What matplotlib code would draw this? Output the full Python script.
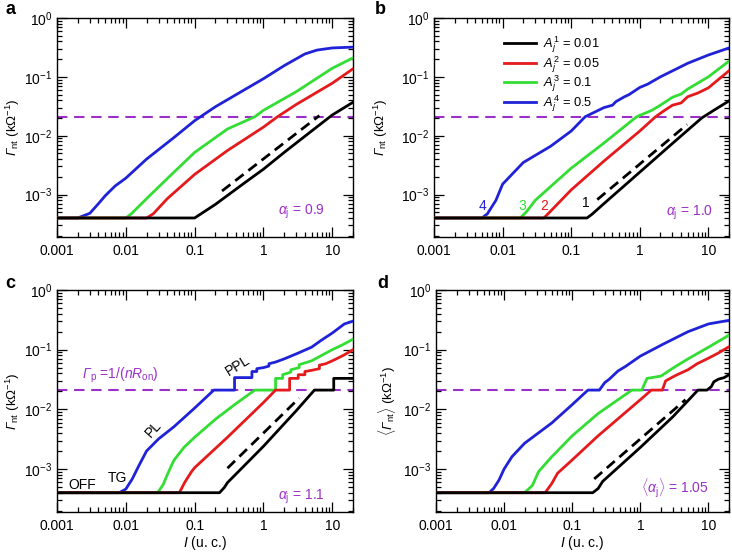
import matplotlib
matplotlib.use("Agg")
import matplotlib.pyplot as plt
import numpy as np
from matplotlib.ticker import LogLocator, NullFormatter

plt.rcParams['font.family'] = ['Liberation Sans', 'DejaVu Sans']
plt.rcParams['mathtext.fontset'] = 'custom'
plt.rcParams['mathtext.rm'] = 'Liberation Sans'
plt.rcParams['mathtext.it'] = 'Liberation Sans:italic'
plt.rcParams['mathtext.bf'] = 'Liberation Sans:bold'
plt.rcParams['mathtext.sf'] = 'Liberation Sans:italic'

# ---------------- data ----------------
Gp_level = 0.021

# panel a (alpha_j = 0.9)
a_black_I = [0.001, 0.1, 0.12, 0.2, 0.5, 1, 2, 5, 10, 20]
a_black_G = [4e-4, 4e-4, 4.6e-4, 6.8e-4, 1.5e-3, 2.7e-3, 5.2e-3, 1.2e-2, 2.25e-2, 3.7e-2]
a_red_I = [0.001, 0.02, 0.025, 0.04, 0.1, 0.3, 1, 1.6, 3, 10, 20]
a_red_G = [4e-4, 4e-4, 4.7e-4, 8.5e-4, 2.2e-3, 5.6e-3, 1.4e-2, 2.1e-2, 3.4e-2, 7.8e-2, 1.37e-1]
a_green_I = [0.001, 0.01, 0.012, 0.02, 0.05, 0.1, 0.3, 0.75, 1, 3, 10, 20]
a_green_G = [4e-4, 4e-4, 4.7e-4, 8.5e-4, 2.4e-3, 5.2e-3, 1.3e-2, 2.1e-2, 2.7e-2, 5.6e-2, 1.4e-1, 2.1e-1]
a_blue_I = [0.001, 0.002, 0.003, 0.004, 0.005, 0.007, 0.01, 0.02, 0.05, 0.1, 0.2, 0.5, 1, 2, 4, 6, 10, 20]
a_blue_G = [4e-4, 4e-4, 4.8e-4, 7e-4, 9.5e-4, 1.4e-3, 1.9e-3, 4.0e-3, 9.3e-3, 1.8e-2, 3.1e-2, 5.8e-2,
            9.3e-2, 1.55e-1, 2.45e-1, 2.85e-1, 3.1e-1, 3.2e-1]
a_dash_I = [0.25, 6.5]
a_dash_G = [1.15e-3, 2.2e-2]

# panel b (alpha_j = 1.0)
b_black_I = [0.001, 0.17, 0.2, 0.3, 1, 3, 8, 12, 20]
b_black_G = [4e-4, 4e-4, 4.6e-4, 7e-4, 2.4e-3, 7.4e-3, 2.0e-2, 2.7e-2, 3.9e-2]
b_red_I = [0.001, 0.04, 0.05, 0.1, 0.3, 1, 1.7, 2.2, 3, 4, 5, 7, 10, 20]
b_red_G = [4e-4, 4e-4, 5.2e-4, 1.2e-3, 3.7e-3, 1.2e-2, 2.1e-2, 2.6e-2, 3.3e-2, 3.6e-2, 4.6e-2, 5.3e-2,
           6.5e-2, 1.27e-1]
b_green_I = [0.001, 0.018, 0.022, 0.03, 0.1, 0.3, 0.9, 1.5, 2, 3, 4, 5, 10, 20]
b_green_G = [4e-4, 4e-4, 5e-4, 8e-4, 2.8e-3, 7.5e-3, 2.1e-2, 2.7e-2, 3.3e-2, 4.5e-2, 5.1e-2, 6.2e-2,
             1.0e-1, 1.85e-1]
b_blue_I = [0.001, 0.005, 0.006, 0.008, 0.01, 0.02, 0.05, 0.1, 0.16, 0.3, 0.4, 0.45, 0.6, 0.7, 1, 1.3,
            2, 5, 10, 20]
b_blue_G = [4e-4, 4e-4, 4.7e-4, 8e-4, 1.5e-3, 3.5e-3, 6.6e-3, 1.2e-2, 2.1e-2, 3.0e-2, 3.3e-2, 3.8e-2,
            4.6e-2, 5.0e-2, 6.6e-2, 7.5e-2, 1.0e-1, 1.7e-1, 2.35e-1, 3.1e-1]
b_dash_I = [0.24, 4.9]
b_dash_G = [8.2e-4, 1.55e-2]

# panel c (alpha_j = 1.1)
c_black_I = [0.001, 0.23, 0.27, 0.3, 1, 3, 5.5, 10.5, 10.5, 20]
c_black_G = [4e-4, 4e-4, 4.9e-4, 5.9e-4, 2.4e-3, 9.5e-3, 2.1e-2, 2.1e-2, 3.3e-2, 3.3e-2]
c_red_I = [0.001, 0.06, 0.072, 0.09, 0.1, 0.3, 1, 1.5, 2.4, 2.4, 3.2, 3.2, 4, 4, 5, 6.5, 6.5, 8, 10,
           12, 15, 20]
c_red_G = [4e-4, 4e-4, 6e-4, 9e-4, 1.05e-3, 3.4e-3, 1.3e-2, 2.1e-2, 2.1e-2, 3.3e-2, 3.3e-2, 3.8e-2,
           3.8e-2, 4.3e-2, 4.5e-2, 4.8e-2, 5.5e-2, 5.8e-2, 6.5e-2, 7.2e-2, 8.2e-2, 1.0e-1]
c_green_I = [0.001, 0.029, 0.035, 0.04, 0.05, 0.07, 0.1, 0.2, 0.4, 0.75, 1.5, 1.5, 1.9, 1.9, 2.5, 2.5,
             3.3, 3.3, 5, 7, 10, 14, 20]
c_green_G = [4e-4, 4e-4, 5.5e-4, 8e-4, 1.4e-3, 2.3e-3, 3.4e-3, 6.8e-3, 1.25e-2, 2.1e-2, 2.1e-2, 3.3e-2,
             3.3e-2, 3.8e-2, 4.2e-2, 4.6e-2, 5.0e-2, 5.6e-2, 6.5e-2, 8e-2, 1.0e-1, 1.2e-1, 1.5e-1]
c_blue_I = [0.001, 0.008, 0.01, 0.0124, 0.0155, 0.02, 0.03, 0.05, 0.1, 0.19, 0.38, 0.38, 0.68, 0.68,
            0.8, 0.8, 1.0, 1.2, 1.2, 1.5, 2, 3, 5, 7, 10, 15, 20]
c_blue_G = [4e-4, 4e-4, 4.6e-4, 6.8e-4, 1.14e-3, 2e-3, 3.2e-3, 5.1e-3, 1.05e-2, 2.1e-2, 2.1e-2, 3.4e-2,
            3.4e-2, 4.3e-2, 4.3e-2, 4.8e-2, 5.0e-2, 5.3e-2, 5.8e-2, 6.2e-2, 7e-2, 8.5e-2, 1.1e-1,
            1.45e-1, 1.9e-1, 2.7e-1, 3.0e-1]
c_dash_I = [0.3, 3.3]
c_dash_G = [1.03e-3, 1.54e-2]

# panel d (<alpha_j> = 1.05)
d_black_I = [0.001, 0.2, 0.24, 0.28, 1, 3, 7, 9.5, 11, 12, 14, 17, 20]
d_black_G = [4e-4, 4e-4, 4.7e-4, 6.2e-4, 2.3e-3, 7.5e-3, 2.1e-2, 2.1e-2, 2.4e-2, 2.9e-2, 3.2e-2,
             3.4e-2, 3.8e-2]
d_red_I = [0.001, 0.04, 0.05, 0.061, 0.1, 0.24, 1, 1.45, 2.1, 2.35, 3.3, 4, 5, 6.8, 10, 14, 20]
d_red_G = [4e-4, 4e-4, 5.7e-4, 8.5e-4, 1.42e-3, 3.6e-3, 1.45e-2, 2.1e-2, 2.1e-2, 3.0e-2, 3.7e-2,
           4.1e-2, 4.6e-2, 5.8e-2, 7.2e-2, 8.8e-2, 1.12e-1]
d_green_I = [0.001, 0.02, 0.026, 0.032, 0.05, 0.1, 0.24, 0.75, 1.05, 1.25, 2, 3, 5, 10, 20]
d_green_G = [4e-4, 4e-4, 5.3e-4, 9e-4, 1.6e-3, 3.6e-3, 8.5e-3, 2.1e-2, 2.1e-2, 3.3e-2, 3.6e-2, 4.9e-2,
             7e-2, 1.1e-1, 1.75e-1]
d_blue_I = [0.001, 0.006, 0.007, 0.0084, 0.01, 0.013, 0.02, 0.05, 0.1, 0.17, 0.25, 0.3, 0.35, 0.47,
            0.6, 1, 2.2, 5, 10, 20]
d_blue_G = [4e-4, 4e-4, 4.7e-4, 6.5e-4, 1e-3, 1.6e-3, 2.7e-3, 5.9e-3, 1.2e-2, 2.1e-2, 2.1e-2, 2.8e-2,
            3.2e-2, 4.4e-2, 5.2e-2, 7.8e-2, 1.25e-1, 2.0e-1, 2.7e-1, 3.1e-1]
d_dash_I = [0.21, 4.6]
d_dash_G = [6.8e-4, 1.45e-2]

legend_labels = [r'$A_j^1$ = 0.01', r'$A_j^2$ = 0.05', r'$A_j^3$ = 0.1', r'$A_j^4$ = 0.5']
alpha_labels = [r'$\alpha_{\rm j}$ = 0.9', r'$\alpha_{\rm j}$ = 1.0', r'$\alpha_{\rm j}$ = 1.1',
                r'$\langle\alpha_{\rm j}\rangle$ = 1.05']
panel_letters = ['a', 'b', 'c', 'd']
xticks = [0.001, 0.01, 0.1, 1, 10]
xticklabels = ['0.001', '0.01', '0.1', '1', '10']

# ---------------- style ----------------
C_BLACK = '#000000'
C_RED = '#e41a1c'
C_GREEN = '#33dd33'
C_BLUE = '#1f22d6'
C_PURPLE = '#9b30c8'
FS = 10

W, H = 732, 555
fig = plt.figure(figsize=(W / 100, H / 100), dpi=100)


def px_axes(l, r, t, b):
    return fig.add_axes([l / W, 1 - b / H, (r - l) / W, (b - t) / H])


axA = px_axes(57, 353, 18, 237)
axB = px_axes(434, 729, 18, 237)
axC = px_axes(57, 353, 290, 512)
axD = px_axes(436, 729, 290, 512)
axes = [axA, axB, axC, axD]

panels = [
    (a_black_I, a_black_G, a_red_I, a_red_G, a_green_I, a_green_G, a_blue_I, a_blue_G, a_dash_I, a_dash_G),
    (b_black_I, b_black_G, b_red_I, b_red_G, b_green_I, b_green_G, b_blue_I, b_blue_G, b_dash_I, b_dash_G),
    (c_black_I, c_black_G, c_red_I, c_red_G, c_green_I, c_green_G, c_blue_I, c_blue_G, c_dash_I, c_dash_G),
    (d_black_I, d_black_G, d_red_I, d_red_G, d_green_I, d_green_G, d_blue_I, d_blue_G, d_dash_I, d_dash_G),
]

LW = 2.0
for i, (ax, p) in enumerate(zip(axes, panels)):
    kI, kG, rI, rG, gI, gG, bI, bG, dI, dG = p
    ax.axhline(Gp_level, color=C_PURPLE, lw=1.5, ls=(0, (5, 3.2)), zorder=1)
    ax.plot(dI, dG, color='black', lw=2.0, ls=(0, (3.8, 2.2)), zorder=2)
    lines = []
    for xs, ys, c in [(kI, kG, C_BLACK), (rI, rG, C_RED), (gI, gG, C_GREEN), (bI, bG, C_BLUE)]:
        ln, = ax.plot(xs, ys, color=c, lw=LW, solid_joinstyle='round')
        lines.append(ln)
    for z, ln in zip([6, 5, 4, 3], lines):
        ln.set_zorder(z)
    ax.set_xscale('log')
    ax.set_yscale('log')
    ax.set_xlim(0.001, 20)
    ax.set_ylim(1.9e-4, 1)
    ax.set_xticks(xticks)
    ax.set_xticklabels(xticklabels)
    ax.xaxis.set_minor_locator(LogLocator(base=10, subs=np.arange(2, 10), numticks=100))
    ax.yaxis.set_major_locator(LogLocator(base=10, numticks=100))
    ax.yaxis.set_minor_locator(LogLocator(base=10, subs=np.arange(2, 10), numticks=100))
    ax.xaxis.set_minor_formatter(NullFormatter())
    ax.yaxis.set_minor_formatter(NullFormatter())
    ax.tick_params(which='both', direction='in', top=True, right=True, labelsize=FS, width=0.9)
    ax.tick_params(which='major', length=7)
    ax.tick_params(which='minor', length=3.6)
    ax.tick_params(axis='x', pad=5)
    for s in ax.spines.values():
        s.set_linewidth(1.0)
    if i == 3:
        ax.set_ylabel(r'$\langle\mathsf{\Gamma}_{\rm nt}\rangle$ (k$\Omega^{-1}$)', fontsize=9.6)
    else:
        ax.set_ylabel(r'$\mathsf{\Gamma}_{\rm nt}$ (k$\Omega^{-1}$)', fontsize=9.6)
    if i >= 2:
        ax.set_xlabel(r'$\mathit{I}$ (u. c.)', fontsize=FS, labelpad=1)
    if i == 1:
        ax.legend(lines, legend_labels, loc='upper left', bbox_to_anchor=(0.237, 0.925),
                  frameon=False, fontsize=9.3, handlelength=2.5, handletextpad=0.5,
                  labelspacing=-0.08, borderaxespad=0, borderpad=0)

ylab_x = [-0.118, -0.15, -0.118, -0.13]
for ax, x in zip(axes, ylab_x):
    ax.yaxis.set_label_coords(x, 0.5)

# alpha labels
alpha_pos = [(0.905, 0.114), (0.946, 0.11), (0.905, 0.068), (0.93, 0.108)]
for ax, lab, (x, y) in zip(axes, alpha_labels, alpha_pos):
    ax.text(x, y, lab, transform=ax.transAxes, ha='right', va='center', color=C_PURPLE, fontsize=FS)

# panel letters
letter_pos = [(5, 10), (375, 10), (5, 284), (377, 284)]
for let, (x, y) in zip(panel_letters, letter_pos):
    fig.text(x / W, 1 - y / H, let, fontsize=13, fontweight='bold', ha='left', va='center')

# panel b numbered labels
for txt, x, y, c in [('4', 0.166, 0.142, C_BLUE), ('3', 0.298, 0.142, C_GREEN),
                     ('2', 0.373, 0.142, C_RED), ('1', 0.515, 0.155, C_BLACK)]:
    axB.text(x, y, txt, transform=axB.transAxes, ha='center', va='center', color=c, fontsize=FS)

# panel c annotations
axC.text(0.084, 0.617, r'$\mathsf{\Gamma}_{\rm p}$ =1/($\mathit{nR}_{\rm on}$)', transform=axC.transAxes,
         ha='left', va='center', color=C_PURPLE, fontsize=FS)
axC.text(0.61, 0.66, 'PPL', transform=axC.transAxes, ha='center', va='center', rotation=32, fontsize=FS)
axC.text(0.325, 0.375, 'PL', transform=axC.transAxes, ha='center', va='center', rotation=48, fontsize=FS)
axC.text(0.084, 0.12, 'OFF', transform=axC.transAxes, ha='center', va='center', fontsize=FS)
axC.text(0.203, 0.153, 'TG', transform=axC.transAxes, ha='center', va='center', fontsize=FS)

fig.savefig('out.png', dpi=100)
